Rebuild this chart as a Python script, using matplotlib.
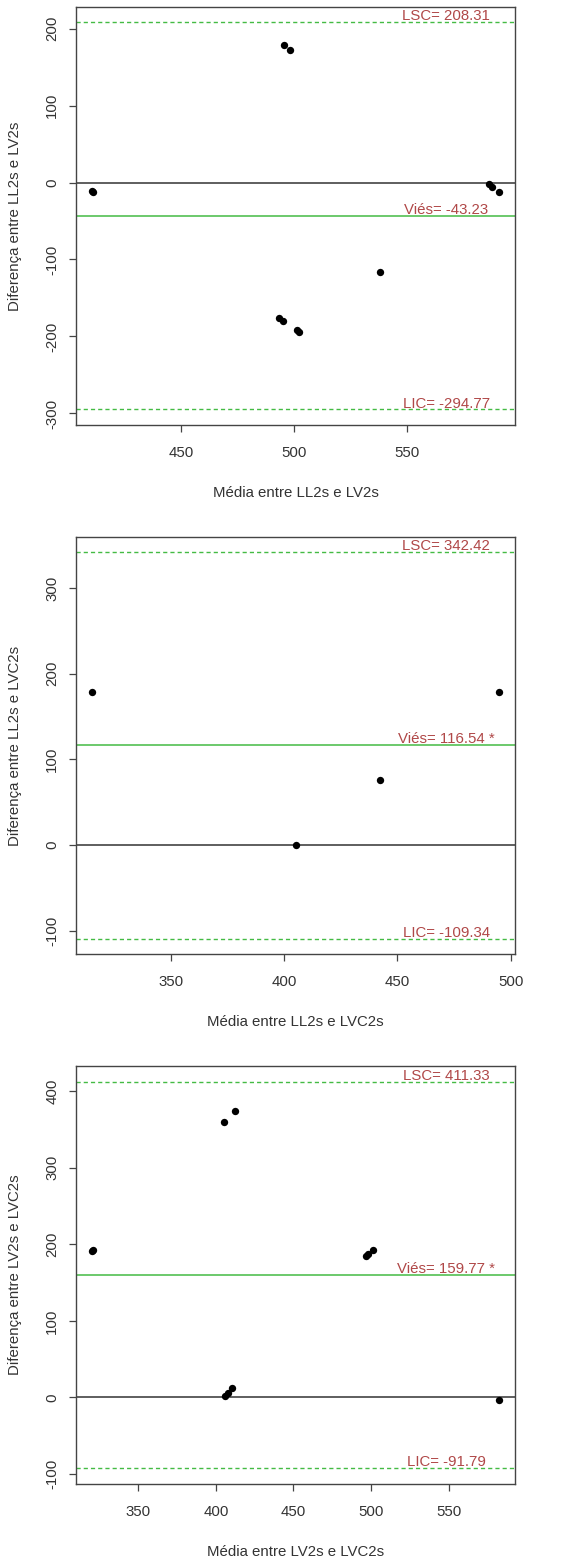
import matplotlib
matplotlib.use('Agg')
import matplotlib.pyplot as plt
import matplotlib.transforms as mtransforms

plt.rcParams['font.family'] = ['Liberation Sans', 'DejaVu Sans']
plt.rcParams['axes.unicode_minus'] = False

# painel 1: LL2s x LV2s
media1 = [410.5, 411.2, 493.4, 495.0, 495.6, 498.2, 501.2, 502.2, 538.2, 586.4, 587.9, 590.8]
dif1 = [-11, -12, -176, -180, 179, 172, -191, -194, -116, -2, -6, -12]
vies1, lsc1, lic1 = -43.23, 208.31, -294.77

# painel 2: LL2s x LVC2s
media2 = [315.4, 405.1, 442.5, 494.8]
dif2 = [178.5, 0, 75.5, 178.5]
vies2, lsc2, lic2 = 116.54, 342.42, -109.34

# painel 3: LV2s x LVC2s
media3 = [320.3, 320.9, 405.3, 412.4, 496.4, 498.3, 501.3, 405.8, 407.5, 410.3, 582.4]
dif3 = [191, 193, 360, 374, 184, 187, 193, 2, 6, 12, -4]
vies3, lsc3, lic3 = 159.77, 411.33, -91.79

xticks1 = [450, 500, 550]
yticks1 = [200, 100, 0, -100, -200, -300]
xticks2 = [350, 400, 450, 500]
yticks2 = [300, 200, 100, 0, -100]
xticks3 = [350, 400, 450, 500, 550]
yticks3 = [400, 300, 200, 100, 0, -100]

W, H = 587, 1564
fig = plt.figure(figsize=(W / 100, H / 100), dpi=100)

txtcol = '#b04848'
green = '#44bb44'


def painel(rect, x, y, vies, lsc, lic, star, xlab, ylab, xlim, ylim, xt, yt):
    left, top, right, bottom = rect
    ax = fig.add_axes([left / W, 1 - bottom / H, (right - left) / W, (bottom - top) / H])
    ax.scatter(x, y, s=28, color='black', zorder=3, linewidths=0)
    ax.axhline(0, color='#333333', lw=1.1)
    ax.axhline(vies, color=green, lw=1.1)
    ax.axhline(lsc, color=green, lw=1.0, ls=(0, (3, 2.2)))
    ax.axhline(lic, color=green, lw=1.0, ls=(0, (3, 2.2)))
    tr = mtransforms.blended_transform_factory(ax.transAxes, ax.transData)
    labs = [('LSC= %.2f' % lsc, lsc),
            ('Viés= %.2f' % vies + (' *' if star else ''), vies),
            ('LIC= %.2f' % lic, lic)]
    for s, v in labs:
        ax.annotate(s, xy=(0.843, v), xycoords=tr, xytext=(0, 1.3), textcoords='offset points',
                    ha='center', va='baseline', color=txtcol, fontsize=10.8)
    ax.set_xlim(xlim)
    ax.set_ylim(ylim)
    ax.set_xticks(xt)
    ax.set_yticks(yt)
    ax.tick_params(direction='out', length=5, width=0.9, colors='#444444',
                   labelcolor='#333333', labelsize=10.8)
    ax.tick_params(axis='x', pad=10)
    ax.tick_params(axis='y', pad=7)
    for lbl in ax.get_yticklabels():
        lbl.set_rotation(90)
        lbl.set_va('center')
    for sp in ax.spines.values():
        sp.set_color('#444444')
        sp.set_linewidth(1.0)
    ax.set_xlabel(xlab, fontsize=10.8, color='#333333', va='center')
    ax.set_ylabel(ylab, fontsize=10.8, color='#333333', va='center')
    ax.xaxis.set_label_coords(0.5, -68 / (bottom - top))
    ax.yaxis.set_label_coords(-61 / (right - left), 0.5)
    return ax


painel((76, 7, 515, 425), media1, dif1, vies1, lsc1, lic1, False,
       'Média entre LL2s e LV2s', 'Diferença entre LL2s e LV2s',
       (403.5, 598), (-315, 228), xticks1, yticks1)
painel((76, 537, 515, 954), media2, dif2, vies2, lsc2, lic2, True,
       'Média entre LL2s e LVC2s', 'Diferença entre LL2s e LVC2s',
       (308.2, 501.9), (-127.2, 359.7), xticks2, yticks2)
painel((76, 1066, 515, 1484), media3, dif3, vies3, lsc3, lic3, True,
       'Média entre LV2s e LVC2s', 'Diferença entre LV2s e LVC2s',
       (309.9, 592.7), (-113, 432.6), xticks3, yticks3)

plt.savefig('out.png', dpi=100)
